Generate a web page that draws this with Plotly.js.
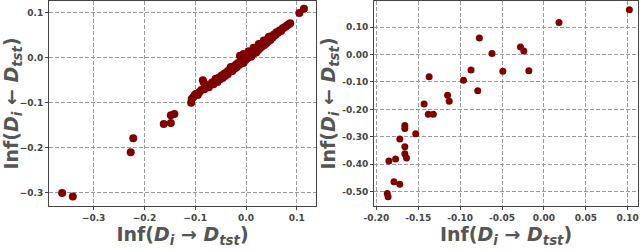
<!DOCTYPE html>
<html>
<head>
<meta charset="utf-8">
<script src="https://cdn.plot.ly/plotly-3.0.1.min.js"></script>
<style>html,body{margin:0;padding:0;background:#fff;}#chart{width:640px;height:250px;}</style>
</head>
<body>
<div id="chart"></div>
<script>
// Left panel: all data points
const leftX = [
 -0.362, -0.341, -0.227, -0.222, -0.162, -0.148, -0.148, -0.141, 0.105, 0.114,
 -0.108, -0.107, -0.104, -0.101, -0.098, -0.095, -0.092, -0.088, -0.085, -0.083,
 -0.082, -0.079, -0.076, -0.073, -0.070, -0.067, -0.064, -0.061, -0.058, -0.056,
 -0.053, -0.051, -0.048, -0.046, -0.043, -0.041, -0.038, -0.036, -0.034, -0.031,
 -0.029, -0.027, -0.025, -0.022, -0.020, -0.018, -0.016, -0.013, -0.011, -0.009,
 -0.007, -0.004, -0.002, 0.000, 0.002, 0.004, 0.006, 0.008, 0.010, 0.012,
 0.014, 0.016, 0.018, 0.020, 0.022, 0.024, 0.026, 0.028, 0.030, 0.032,
 0.034, 0.036, 0.038, 0.040, 0.042, 0.044, 0.046, 0.048, 0.050, 0.053,
 0.055, 0.058, 0.060, 0.063, 0.066, 0.069, 0.072, 0.075, 0.078, 0.081,
 0.084, 0.087, -0.012, -0.005, 0.005, 0.015, 0.025, 0.035, 0.045, -0.005,
 0.010, 0.020, -0.030, -0.060
];
const leftY = [
 -0.300, -0.308, -0.210, -0.179, -0.147, -0.145, -0.128, -0.125, 0.099, 0.108,
 -0.100, -0.092, -0.088, -0.083, -0.080, -0.083, -0.077, -0.072, -0.050, -0.056,
 -0.070, -0.066, -0.062, -0.066, -0.060, -0.055, -0.059, -0.052, -0.048, -0.054,
 -0.044, -0.048, -0.040, -0.045, -0.036, -0.041, -0.032, -0.037, -0.028, -0.031,
 -0.024, -0.030, -0.020, -0.024, -0.016, -0.021, -0.012, -0.016, -0.008, -0.012,
 -0.004, -0.008, 0.000, -0.004, 0.005, 0.000, 0.008, 0.003, 0.012, 0.007,
 0.015, 0.010, 0.019, 0.014, 0.023, 0.017, 0.026, 0.021, 0.030, 0.025,
 0.033, 0.028, 0.037, 0.032, 0.040, 0.036, 0.043, 0.039, 0.047, 0.045,
 0.051, 0.050, 0.056, 0.055, 0.060, 0.059, 0.065, 0.066, 0.069, 0.071,
 0.074, 0.076, 0.004, 0.008, 0.014, 0.022, 0.030, 0.038, 0.046, -0.012,
 0.002, 0.011, -0.021, -0.047
];
// Right panel: data points
const rightX = [
 0.102, 0.018, -0.077, -0.062, -0.028, -0.024, -0.087, -0.049, -0.018, -0.137,
 -0.096, -0.079, -0.115, -0.113, -0.143, -0.138, -0.132, -0.166, -0.166, -0.153,
 -0.172, -0.166, -0.166, -0.164, -0.177, -0.185, -0.179, -0.172, -0.187, -0.186
];
const rightY = [
 0.163, 0.117, 0.060, 0.004, 0.027, 0.013, -0.056, -0.061, -0.059, -0.081,
 -0.094, -0.132, -0.148, -0.170, -0.180, -0.218, -0.218, -0.259, -0.270, -0.289,
 -0.308, -0.336, -0.362, -0.377, -0.381, -0.388, -0.464, -0.473, -0.506, -0.518
];
// Tick labels
const leftXTicks = [-0.3, -0.2, -0.1, 0.0, 0.1];
const leftXLabels = ["\u22120.3", "\u22120.2", "\u22120.1", "0.0", "0.1"];
const leftYTicks = [-0.3, -0.2, -0.1, 0.0, 0.1];
const leftYLabels = ["\u22120.3", "\u22120.2", "\u22120.1", "0.0", "0.1"];
const rightXTicks = [-0.20, -0.15, -0.10, -0.05, 0.00, 0.05, 0.10];
const rightXLabels = ["-0.20", "-0.15", "-0.10", "-0.05", "0.00", "0.05", "0.10"];
const rightYTicks = [-0.5, -0.4, -0.3, -0.2, -0.1, 0.0, 0.1];
const rightYLabels = ["-0.50", "-0.40", "-0.30", "-0.20", "-0.10", "0.00", "0.10"];

const xTitle = "<b>Inf(<i>D</i><sub><i>i</i></sub> \u2192 <i>D</i><sub><i>tst</i></sub>)</b>";
const yTitle = "<b>Inf(<i>D</i><sub><i>i</i></sub> \u2190 <i>D</i><sub><i>tst</i></sub>)</b>";

const traces = [
  {x: leftX, y: leftY, type: 'scatter', mode: 'markers',
   marker: {color: '#7f0000', size: 8, line: {width: 0}}, xaxis: 'x', yaxis: 'y', showlegend: false},
  {x: rightX, y: rightY, type: 'scatter', mode: 'markers',
   marker: {color: '#7f0000', size: 7, line: {width: 0}}, xaxis: 'x2', yaxis: 'y2', showlegend: false}
];

const tickFont = {family: 'DejaVu Sans', size: 9, color: '#444', weight: 'bold'};
const titleFont = {family: 'DejaVu Sans', size: 19, color: '#555', weight: 'bold'};
function ax(extra) {
  return Object.assign({
    showline: true, mirror: true, linecolor: '#444', linewidth: 1,
    showgrid: true, gridcolor: '#9a9a9a', griddash: '4px,2px', gridwidth: 1,
    zeroline: false, ticks: 'outside', ticklen: 3, tickcolor: '#444',
    tickfont: tickFont, tickmode: 'array', automargin: false,
    ticklabeloverflow: 'allow'
  }, extra);
}
const layout = {
  width: 640, height: 250,
  margin: {l: 0, r: 0, t: 0, b: 0},
  paper_bgcolor: '#fff', plot_bgcolor: '#fff',
  showlegend: false,
  xaxis: ax({domain: [0.0766, 0.4938], anchor: 'y', range: [-0.3878, 0.1378],
    tickvals: leftXTicks, ticktext: leftXLabels,
    title: {text: xTitle, font: titleFont, standoff: 4}}),
  yaxis: ax({domain: [0.176, 0.996], anchor: 'x', range: [-0.329, 0.1254],
    tickvals: leftYTicks, ticktext: leftYLabels,
    title: {text: yTitle, font: titleFont, standoff: 4}}),
  xaxis2: ax({domain: [0.5844, 0.997], anchor: 'y2', range: [-0.2028, 0.1124],
    tickvals: rightXTicks, ticktext: rightXLabels,
    title: {text: xTitle, font: titleFont, standoff: 4}}),
  yaxis2: ax({domain: [0.176, 0.996], anchor: 'x2', range: [-0.552, 0.195],
    tickvals: rightYTicks, ticktext: rightYLabels,
    title: {text: yTitle, font: titleFont, standoff: 1}})
};
Plotly.newPlot('chart', traces, layout, {displayModeBar: false, staticPlot: true});
</script>
</body>
</html>
